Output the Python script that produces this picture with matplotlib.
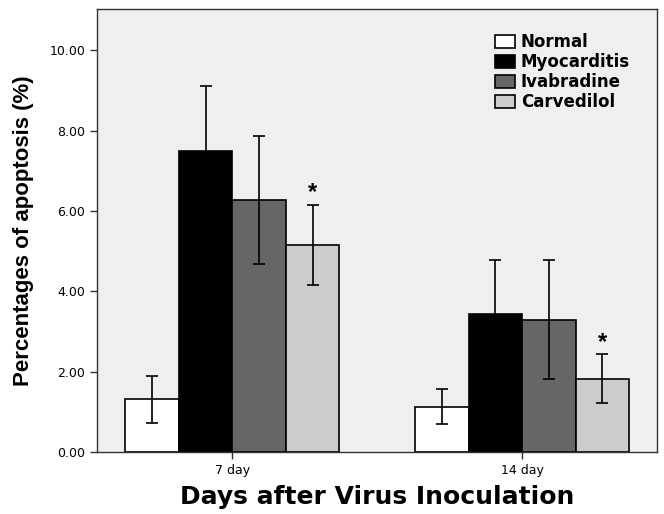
import matplotlib.pyplot as plt
import numpy as np

days = ['7 day', '14 day']
groups = ['Normal', 'Myocarditis', 'Ivabradine', 'Carvedilol']
means = {
    'Normal': [1.31, 1.13],
    'Myocarditis': [7.49, 3.44],
    'Ivabradine': [6.27, 3.29],
    'Carvedilol': [5.16, 1.82],
}
errors = {
    'Normal': [0.59, 0.43],
    'Myocarditis': [1.63, 1.33],
    'Ivabradine': [1.60, 1.48],
    'Carvedilol': [0.99, 0.61],
}
significant = ['Carvedilol']
yticks = [0, 2, 4, 6, 8, 10]

colors = {'Normal': '#ffffff', 'Myocarditis': '#000000',
          'Ivabradine': '#666666', 'Carvedilol': '#cccccc'}

plt.rcParams['font.family'] = ['DejaVu Sans']

fig = plt.figure(figsize=(6.64, 5.14), dpi=100)
ax = fig.add_axes([0.1465, 0.1206, 0.8425, 0.862])
ax.set_facecolor('#efefef')

x = np.arange(len(days))
width = 0.1845
for i, g in enumerate(groups):
    pos = x + (i - 1.5) * width
    ax.bar(pos, means[g], width, color=colors[g], edgecolor='black',
           linewidth=1.2, label=g, zorder=2)
    ax.errorbar(pos, means[g], yerr=errors[g], fmt='none', ecolor='black',
                elinewidth=1.2, capsize=4.5, capthick=1.2, zorder=3)
    if g in significant:
        for p, m, e in zip(pos, means[g], errors[g]):
            ax.text(p, m + e + 0.30, '*', ha='center', va='center',
                    fontsize=17, fontweight='bold', family='Liberation Sans')

ax.set_xlim(-0.466, 1.464)
ax.set_ylim(0, 11.03)
ax.set_yticks(yticks)
ax.set_yticklabels(['%.2f' % v for v in yticks], fontsize=9)
ax.set_xticks(x)
ax.set_xticklabels(days, fontsize=9)
ax.tick_params(axis='both', direction='out', length=5, width=1, color='#333333')

for s in ax.spines.values():
    s.set_color('#333333')
    s.set_linewidth(1)

ax.set_ylabel('Percentages of apoptosis (%)', fontsize=16, fontweight='bold',
              family='Liberation Sans', labelpad=11)
ax.set_xlabel('Days after Virus Inoculation', fontsize=18, fontweight='bold',
              labelpad=6)

leg = ax.legend(loc='upper left', bbox_to_anchor=(0.711, 0.945), frameon=False,
                prop={'weight': 'bold', 'size': 12}, handlelength=1.2,
                handleheight=0.8, handletextpad=0.35, labelspacing=0.12,
                borderpad=0, borderaxespad=0)

fig.savefig('out.png', dpi=100)
